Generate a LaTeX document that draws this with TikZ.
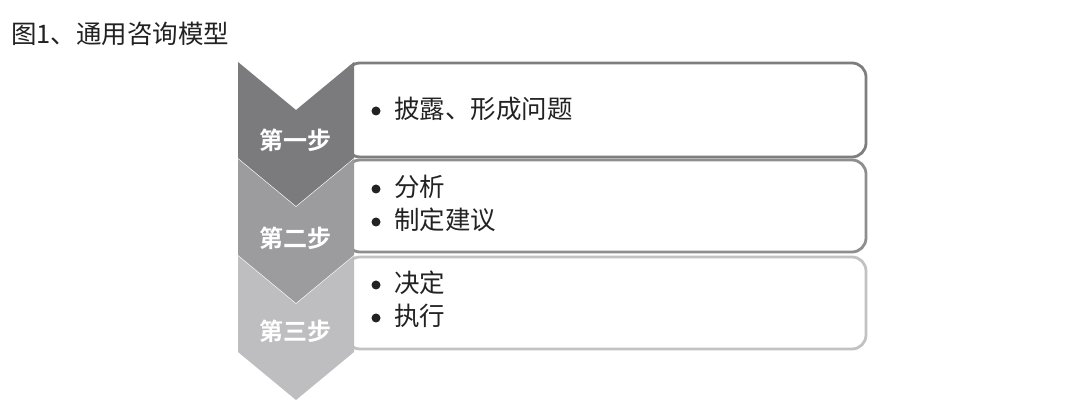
\documentclass[tikz,border=0pt]{standalone}
\usepackage{fontspec}
\newfontfamily\cjk{Noto Sans CJK SC}
\newfontfamily\cjkbold{Noto Sans CJK SC Bold}
\definecolor{cA}{HTML}{7B7B7D}
\definecolor{cB}{HTML}{9C9C9E}
\definecolor{cC}{HTML}{BEBEC0}
\definecolor{bA}{HTML}{7E7E80}
\definecolor{bB}{HTML}{8E8E90}
\definecolor{bC}{HTML}{C2C2C4}
\definecolor{txt}{HTML}{222222}
\begin{document}
\begin{tikzpicture}[x=1pt,y=-1pt,
  infobox/.style={draw, line width=2.8pt, rounded corners=14pt, fill=white},
  steplabel/.style={text=white, font=\cjkbold\fontsize{24}{24}\selectfont, inner sep=0pt},
  itemtext/.style={text=txt, font=\cjk\fontsize{25.5}{30}\selectfont, anchor=west, inner sep=0pt},
  dot/.style={circle, fill=txt, minimum size=9pt, inner sep=0pt},
  titletext/.style={text=txt, font=\cjk\fontsize{25.5}{26}\selectfont, anchor=west, inner sep=0pt}]
\useasboundingbox (0,0) rectangle (1085,419);
\fill[white] (0,0) rectangle (1085,419);
\node[titletext] (title) at (11,34) {图1、通用咨询模型};
% boxes
\draw[infobox, draw=bC] (346,257) rectangle (866,349);
\draw[infobox, draw=bB] (346,160) rectangle (866,252);
\draw[infobox, draw=bA] (346,63) rectangle (866,157);
% chevrons
\fill[cC] (238,256) -- (296,304) -- (354,256) -- (354,352) -- (296,400) -- (238,352) -- cycle;
\fill[cB] (238,159) -- (296,207) -- (354,159) -- (354,255) -- (296,303) -- (238,255) -- cycle;
\fill[cA] (238,62) -- (296,110) -- (354,62) -- (354,158) -- (296,206) -- (238,158) -- cycle;
\node[steplabel] (s1) at (295,140) {第一步};
\node[steplabel] (s2) at (295,238) {第二步};
\node[steplabel] (s3) at (295,331) {第三步};
% items
\node[dot] (d1) at (376,111) {};
\node[itemtext] (t1) at (394,109) {披露、形成问题};
\node[dot] (d2) at (376,189) {};
\node[itemtext] (t2) at (394,187) {分析};
\node[dot] (d3) at (376,222) {};
\node[itemtext] (t3) at (394,220) {制定建议};
\node[dot] (d4) at (376,285) {};
\node[itemtext] (t4) at (394,283) {决定};
\node[dot] (d5) at (376,318) {};
\node[itemtext] (t5) at (394,316) {执行};
\end{tikzpicture}
\end{document}
